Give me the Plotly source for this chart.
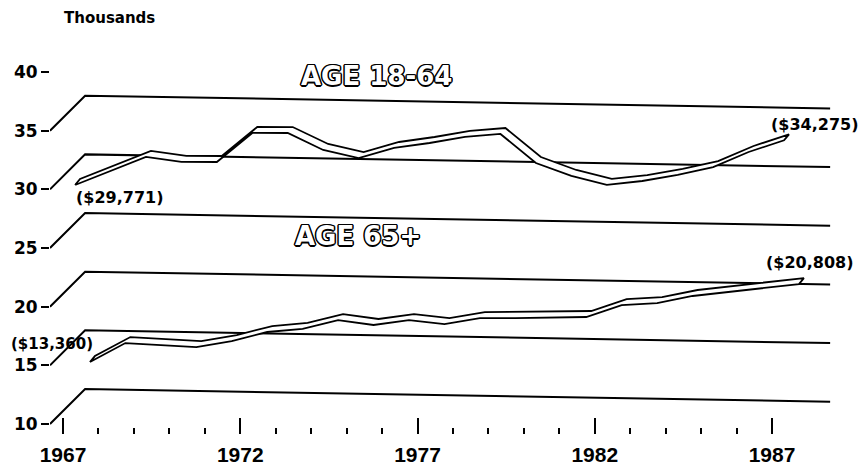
import plotly.graph_objects as go

# median family income, thousands of dollars
years = list(range(1967, 1988))
age_18_64 = [29.771, 31.0, 32.23, 31.84, 31.87, 34.38, 34.41, 33.0, 32.35, 33.24, 33.7,
             34.25, 34.54, 32.1, 31.03, 30.3, 30.67, 31.22, 31.93, 33.25, 34.275]
age_65 = [13.360, 15.02, 14.89, 14.76, 15.31, 16.12, 16.42, 17.22, 16.84, 17.30, 17.00,
          17.55, 17.59, 17.68, 17.76, 18.82, 19.03, 19.67, 20.05, 20.43, 20.808]

y_ticks = [10, 15, 20, 25, 30, 35, 40]
wall_levels = [10, 15, 20, 25, 30, 35]
major_years = [1967, 1972, 1977, 1982, 1987]
minor_years = [y for y in years if y not in major_years]

# page body has an 8px margin, so the figure is a bit smaller than the window
PAD = 8
W, H = 867 - 2 * PAD, 475 - 2 * PAD
PL, PR, PT, PB = 50, 845, 60, 434   # plot area in page pixels

def px_x(p):
    return 1967 + (p - 63) / 35.45

def px_y(p):
    return 10 + (424 - p) / 11.733

x_range = [px_x(PL), px_x(PR)]
y_range = [px_y(PB), px_y(PT)]

fig = go.Figure()

# back wall lines with the 3d step at the left
wall_x, wall_y = [], []
for lv in wall_levels:
    wall_x += [x_range[0], x_range[0] + 0.99, 1988.64, None]
    wall_y += [lv, lv + 2.98, lv + 1.9, None]
fig.add_trace(go.Scatter(x=wall_x, y=wall_y, mode="lines",
                         line=dict(color="black", width=2), hoverinfo="skip"))

# ribbons: front edge + back edge, filled white
def ribbon(vals, dx, off0, off1):
    fx = [t + dx for t in years]
    fy = [v + off0 + (off1 - off0) * (t - 1967) / 20 for t, v in zip(years, vals)]
    bx = [x + 0.14 for x in fx]
    by = [y + 0.51 for y in fy]
    xs = fx + bx[::-1] + [fx[0]]
    ys = fy + by[::-1] + [fy[0]]
    return go.Scatter(x=xs, y=ys, mode="lines", fill="toself", fillcolor="white",
                      line=dict(color="black", width=1.8), hoverinfo="skip")

fig.add_trace(ribbon(age_18_64, 0.34, 0.6, -0.1))
fig.add_trace(ribbon(age_65, 0.76, 1.92, 1.12))

def money(v):
    return "(${:,.0f})".format(v * 1000)

lab_font = dict(family="DejaVu Sans", size=16, color="black", weight="bold")
outline = ("-1px -1px 0 #000, 1px -1px 0 #000, -1px 1px 0 #000, 1px 1px 0 #000, "
           "0 -1.5px 0 #000, 0 1.5px 0 #000, -1.5px 0 0 #000, 1.5px 0 0 #000")
big_font = dict(family="DejaVu Sans", size=26, color="white", weight="bold", shadow=outline)

notes = [
    ("Thousands", 109, 18, "center", dict(family="DejaVu Sans", size=15, color="black", weight="bold")),
    ("AGE 18-64", 376, 76, "center", big_font),
    ("AGE 65+", 358, 236, "center", big_font),
    (money(age_18_64[0]), 120, 197, "center", lab_font),
    (money(age_18_64[-1]), 815, 124, "center", lab_font),
    (money(age_65[0]), 9, 344, "left", dict(lab_font, size=15)),
    (money(age_65[-1]), 810, 263, "center", lab_font),
]
for txt, px, py, anchor, f in notes:
    fig.add_annotation(x=(px - PL) / (PR - PL), y=(PB - py) / (PB - PT),
                       xref="paper", yref="paper", text=txt,
                       showarrow=False, font=f, xanchor=anchor, yanchor="middle")

fig.update_layout(
    width=W, height=H,
    margin=dict(l=PL - PAD, r=W - (PR - PAD), t=PT - PAD, b=H - (PB - PAD)),
    paper_bgcolor="white", plot_bgcolor="white",
    showlegend=False,
    xaxis=dict(range=x_range, tickmode="array", tickvals=major_years,
               ticks="inside", ticklen=16, tickwidth=2, tickcolor="black",
               minor=dict(tickmode="array", tickvals=minor_years, ticks="inside",
                          ticklen=6, tickwidth=2, tickcolor="black", showgrid=False),
               showgrid=False, showline=False, zeroline=False, automargin=False,
               ticklabelstandoff=6,
               tickfont=dict(family="Liberation Sans", size=21, color="black", weight="bold")),
    yaxis=dict(range=y_range, tickmode="array", tickvals=y_ticks,
               ticks="outside", ticklen=8, tickwidth=2, tickcolor="black",
               showgrid=False, showline=False, zeroline=False, automargin=False,
               tickfont=dict(family="DejaVu Sans", size=17, color="black", weight="bold")),
)

fig.write_html("out.html")
